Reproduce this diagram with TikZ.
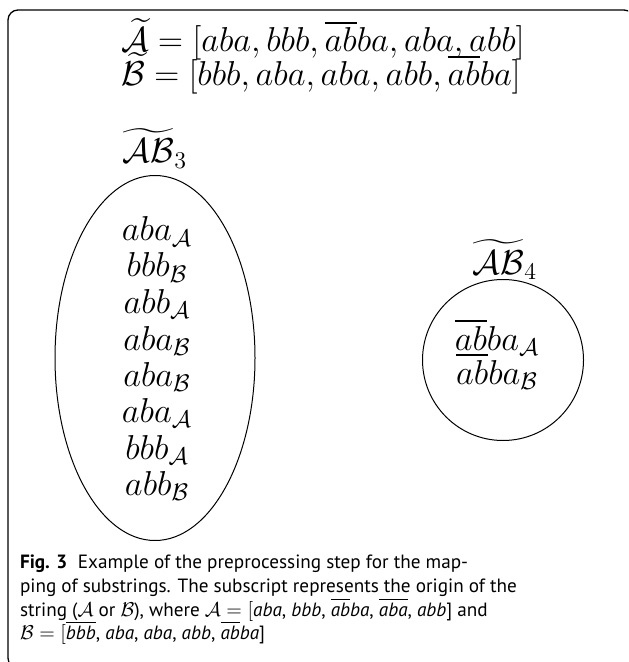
\documentclass[tikz,border=0pt]{standalone}
\usepackage{amsmath}
\usepackage{fontspec}
\usetikzlibrary{shapes.geometric}
\newfontfamily\capfont{PT Sans}
\newcommand{\ovl}[1]{$\overline{\text{\itshape #1}}$}
\begin{document}
\begin{tikzpicture}[x=0.5pt,y=-0.5pt,
  every node/.style={inner sep=0pt, outer sep=0pt},
  mathtxt/.style={font=\fontsize{16.5}{20}\selectfont},
  toptxt/.style={font=\fontsize{16.3}{19}\selectfont, anchor=base west},
  itemtxt/.style={mathtxt, anchor=base},
  captxt/.style={font=\capfont\fontsize{9.6}{11.85}\selectfont, anchor=base west},
  framestyle/.style={line width=0.65pt, rounded corners=5pt},
  setshape/.style={draw, line width=0.5pt}]
\useasboundingbox (0,0) rectangle (628,662);
\begin{scope}
  \clip (0,0) rectangle (628,662);
  \draw[framestyle] (8,10) rectangle (634,668);
\end{scope}

% top formulas
\node[toptxt] (la) at (121,52) {$\widetilde{\mathcal{A}}=[aba,bbb,\overline{ab}ba,aba,abb]$};
\node[toptxt] (lb) at (121,86) {$\widetilde{\mathcal{B}}=[bbb,aba,aba,abb,\overline{ab}ba]$};

% ellipse set
\node[setshape, ellipse, minimum width=100pt, minimum height=182.5pt] (ell) at (155,358) {};
\node[mathtxt, anchor=base] (ell-lab) at (155,163) {$\widetilde{\mathcal{AB}}_3$};
\node[itemtxt] (e1) at (157,241) {$aba_{\mathcal{A}}$};
\node[itemtxt] (e2) at (157,277) {$bbb_{\mathcal{B}}$};
\node[itemtxt] (e3) at (157,313) {$abb_{\mathcal{A}}$};
\node[itemtxt] (e4) at (157,350) {$aba_{\mathcal{B}}$};
\node[itemtxt] (e5) at (157,386) {$aba_{\mathcal{B}}$};
\node[itemtxt] (e6) at (157,422) {$aba_{\mathcal{A}}$};
\node[itemtxt] (e7) at (157,459) {$bbb_{\mathcal{A}}$};
\node[itemtxt] (e8) at (157,495) {$abb_{\mathcal{B}}$};

% circle set
\node[setshape, circle, minimum size=80.5pt] (cir) at (503,360) {};
\node[mathtxt, anchor=base] (cir-lab) at (505,274) {$\widetilde{\mathcal{AB}}_4$};
\node[itemtxt] (c1) at (497,350) {$\overline{ab}ba_{\mathcal{A}}$};
\node[itemtxt] (c2) at (497,384) {$\overline{ab}ba_{\mathcal{B}}$};

% caption
\node[captxt] (cap1) at (20,568) {\textbf{Fig. 3}\hspace{0.55em}Example of the preprocessing step for the map-};
\node[captxt] (cap2) at (20,592) {ping of substrings. The subscript represents the origin of the};
\node[captxt] (cap3) at (20,616) {string ($\mathcal{A}$ or $\mathcal{B}$), where $\mathcal{A}=[$\textit{aba}, \textit{bbb}, \ovl{ab}\textit{ba}, \ovl{aba}, \textit{abb}] and};
\node[captxt] (cap4) at (20,639) {$\mathcal{B}=[$\ovl{bbb}, \textit{aba}, \textit{aba}, \textit{abb}, \ovl{ab}\textit{ba}]};
\end{tikzpicture}
\end{document}
